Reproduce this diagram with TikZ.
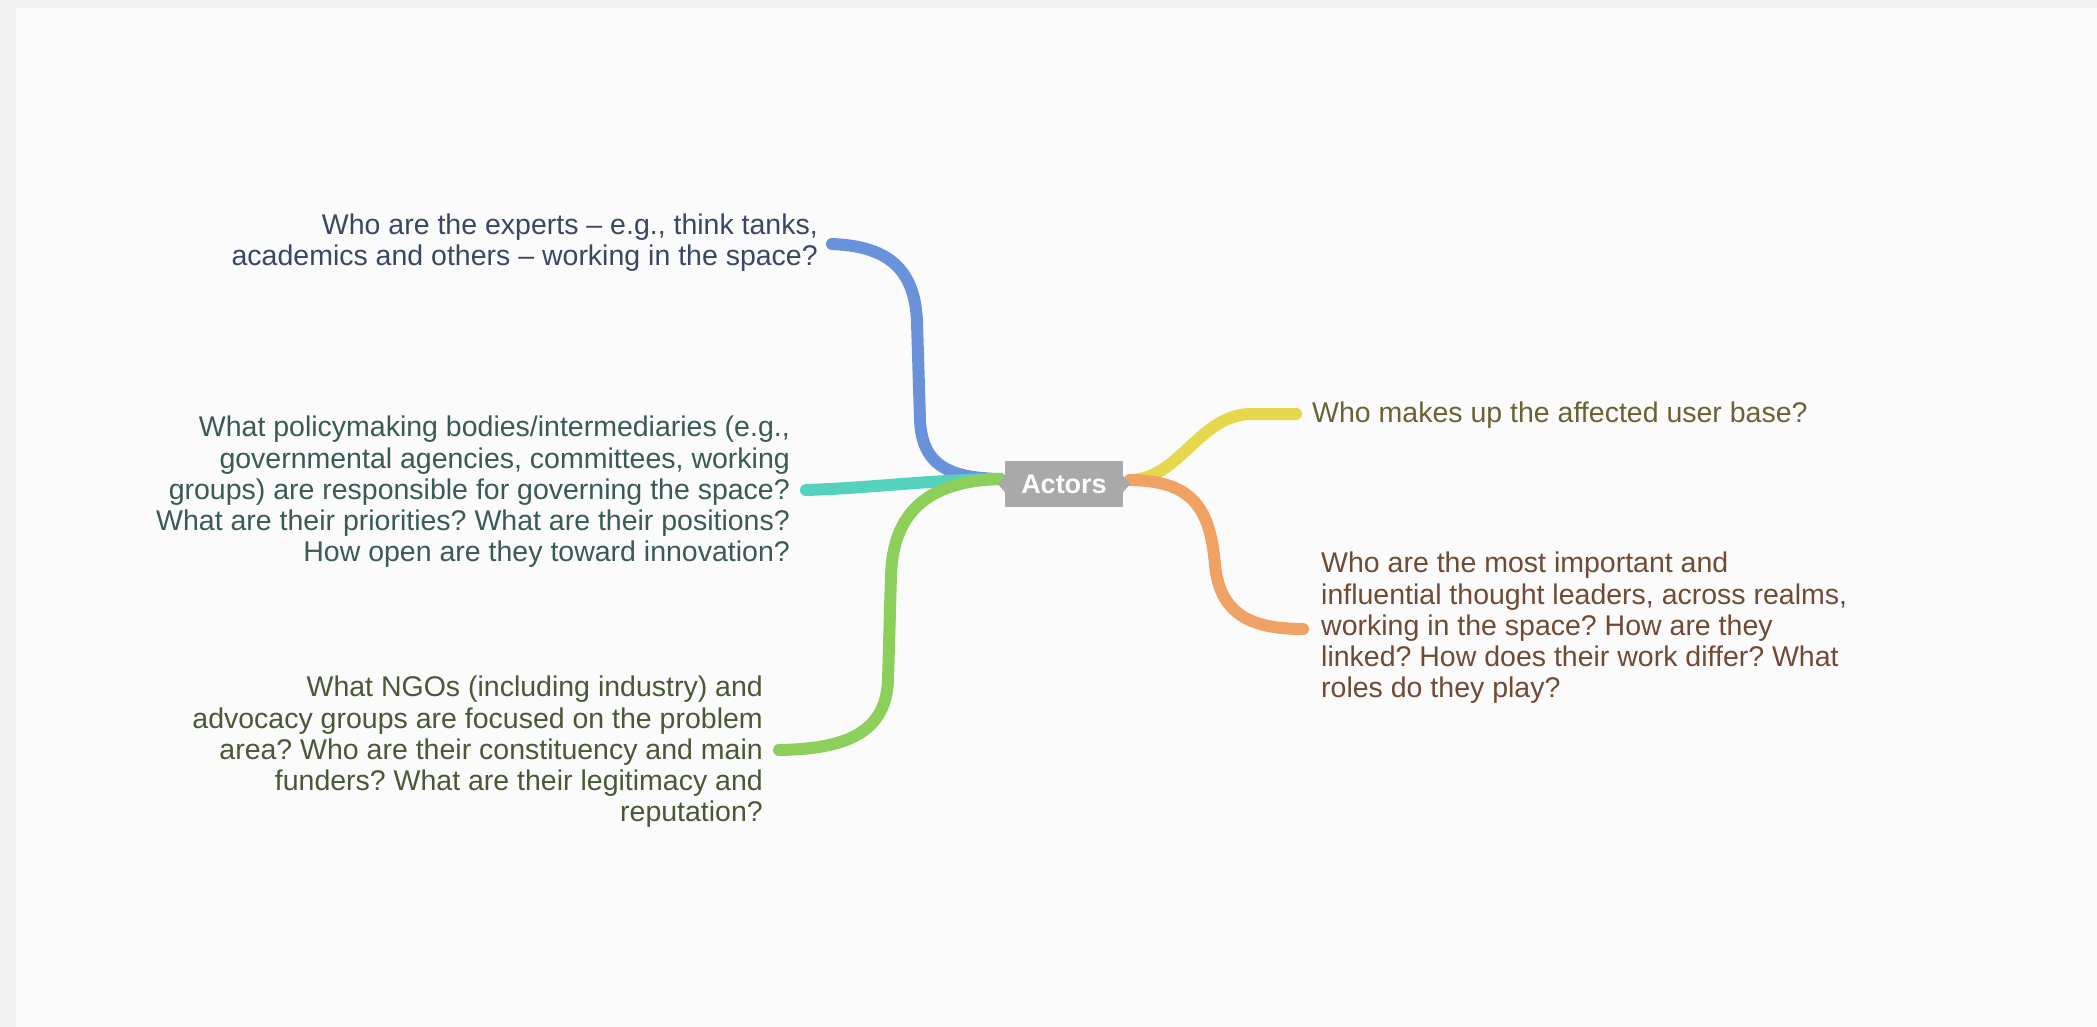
\documentclass[tikz,border=0pt]{standalone}
\usepackage{fontspec}
\setmainfont{Liberation Sans}
\frenchspacing
\definecolor{bgout}{HTML}{F1F1F1}
\definecolor{bgin}{HTML}{FBFBFB}
\definecolor{cblue}{HTML}{6A92DA}
\definecolor{cteal}{HTML}{55D2BE}
\definecolor{cgreen}{HTML}{8CCF5A}
\definecolor{cyellow}{HTML}{E6D84C}
\definecolor{corange}{HTML}{F0A264}
\definecolor{tblue}{HTML}{3A4664}
\definecolor{tteal}{HTML}{3A5A56}
\definecolor{tgreen}{HTML}{4A5838}
\definecolor{tyellow}{HTML}{6A6232}
\definecolor{torange}{HTML}{704A34}
\definecolor{cnode}{HTML}{A9A9A9}
\tikzset{
  qtext/.style={inner sep=0pt, font=\fontsize{28.5}{31.2}\selectfont},
  lefttext/.style={qtext, anchor=east, align=right},
  righttext/.style={qtext, anchor=west, align=left},
  branch/.style={line width=12pt, line cap=round, line join=round},
  centerbox/.style={fill=cnode, text=white, minimum width=118pt, minimum height=46pt, inner sep=0pt, font=\fontsize{27}{30}\selectfont\bfseries}
}
\begin{document}
\begin{tikzpicture}[x=1pt,y=-1pt]
\useasboundingbox (0,0) rectangle (2097,1027);
\fill[bgout] (0,0) rectangle (2097,1027);
\fill[bgin] (16,8) rectangle (2097,1027);

% texts
\node[lefttext, text=tblue] (qexp) at (818,243) {Who are the experts – e.g., think tanks,\\academics and others – working in the space?};
\node[lefttext, text=tteal] (qpol) at (790,492) {What policymaking bodies/intermediaries (e.g.,\\governmental agencies, committees, working\\groups) are responsible for governing the space?\\What are their priorities? What are their positions?\\How open are they toward innovation?};
\node[lefttext, text=tgreen] (qngo) at (763,752) {What NGOs (including industry) and\\advocacy groups are focused on the problem\\area? Who are their constituency and main\\funders? What are their legitimacy and\\reputation?};
\node[righttext, text=tyellow] (quser) at (1312,415) {Who makes up the affected user base?};
\node[righttext, text=torange] (qlead) at (1321,628) {Who are the most important and\\influential thought leaders, across realms,\\working in the space? How are they\\linked? How does their work differ? What\\roles do they play?};

% branch end points
\coordinate (eexp) at (832,244);
\coordinate (epol) at (806,490);
\coordinate (engo) at (779,750);
\coordinate (euser) at (1296,414);
\coordinate (elead) at (1303,629);
\coordinate (cl) at (1000,479);
\coordinate (cr) at (1130,480);

% branches
\draw[branch, cblue] (cl) .. controls (950,478) and (922,466) .. (920,420) -- (917,322) .. controls (915,264) and (882,246) .. (eexp);
\draw[branch, cteal] (cl) .. controls (930,480) and (870,488) .. (epol);
\draw[branch, cgreen] (cl) .. controls (925,481) and (893,515) .. (891,575) -- (888,680) .. controls (886,735) and (842,749) .. (engo);
\draw[branch, cyellow] (cr) .. controls (1180,479) and (1198,416) .. (1250,414) -- (euser);
\draw[branch, corange] (cr) .. controls (1190,481) and (1210,505) .. (1215,565) .. controls (1220,615) and (1252,629) .. (elead);

% center node
\node[centerbox] (actors) at (1064,484) {Actors};
\fill[cnode] (actors.west) ++(0,-8) -- ++(-7,8) -- ++(7,8) -- cycle;
\fill[cnode] (actors.east) ++(0,-8) -- ++(7,8) -- ++(-7,8) -- cycle;
\end{tikzpicture}
\end{document}
